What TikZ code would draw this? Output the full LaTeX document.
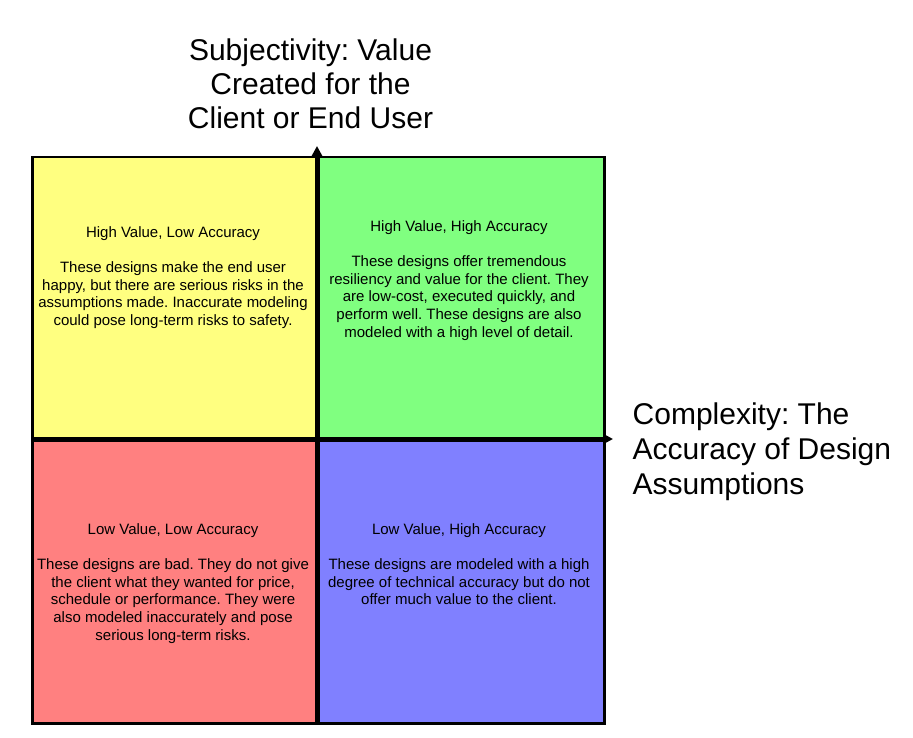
\documentclass[tikz,border=0pt]{standalone}
\usepackage{fontspec}
\setmainfont{Liberation Sans}
\usetikzlibrary{arrows.meta}
\definecolor{qyellow}{RGB}{255,255,128}
\definecolor{qgreen}{RGB}{128,255,128}
\definecolor{qred}{RGB}{255,128,128}
\definecolor{qblue}{RGB}{128,128,255}
\frenchspacing
\begin{document}
\begin{tikzpicture}[x=1pt,y=-1pt,
  quad/.style={draw=black, line width=2.5pt, minimum width=286pt, minimum height=283pt, inner sep=0pt, anchor=north west},
  qtext/.style={align=center, inner sep=0pt, anchor=north, font=\fontsize{15}{17.6}\selectfont},
  bigtext/.style={inner sep=0pt, font=\fontsize{30}{34}\selectfont},
  axis/.style={line width=3.5pt, -{Triangle[width=10pt,length=10pt]}}
]
\useasboundingbox (0,0) rectangle (913,738);
% quadrants
\node[quad, fill=qyellow] (tl) at (31,156) {};
\node[quad, fill=qgreen]  (tr) at (317,156) {};
\node[quad, fill=qred]    (bl) at (31,439) {};
\node[quad, fill=qblue]   (br) at (317,439) {};
% axes
\coordinate (vbot) at (317,722);
\coordinate (vtop) at (317,146);
\coordinate (hleft) at (31,439);
\coordinate (hright) at (613,439);
\draw[axis] (vbot) -- (vtop);
\draw[axis] (hleft) -- (hright);
% quadrant texts
\node[qtext] (tlt) at (173,226.5) {High Value, Low Accuracy\\[17.6pt]
These designs make the end user\\
happy, but there are serious risks in the\\
assumptions made. Inaccurate modeling\\
could pose long-term risks to safety.};
\node[qtext] (trt) at (459,220.5) {High Value, High Accuracy\\[17.6pt]
These designs offer tremendous\\
resiliency and value for the client. They\\
are low-cost, executed quickly, and\\
perform well. These designs are also\\
modeled with a high level of detail.};
\node[qtext] (blt) at (173,523.5) {Low Value, Low Accuracy\\[17.6pt]
These designs are bad. They do not give\\
the client what they wanted for price,\\
schedule or performance. They were\\
also modeled inaccurately and pose\\
serious long-term risks.};
\node[qtext] (brt) at (459,523.5) {Low Value, High Accuracy\\[17.6pt]
These designs are modeled with a high\\
degree of technical accuracy but do not\\
offer much value to the client.};
% axis labels
\node[bigtext, align=center, anchor=north] (ylab) at (310.5,38.5) {Subjectivity: Value\\Created for the\\Client or End User};
\node[bigtext, align=left, anchor=north west, font=\fontsize{30}{35}\selectfont] (xlab) at (632.5,402.5) {Complexity: The\\Accuracy of Design\\Assumptions};
\end{tikzpicture}
\end{document}
